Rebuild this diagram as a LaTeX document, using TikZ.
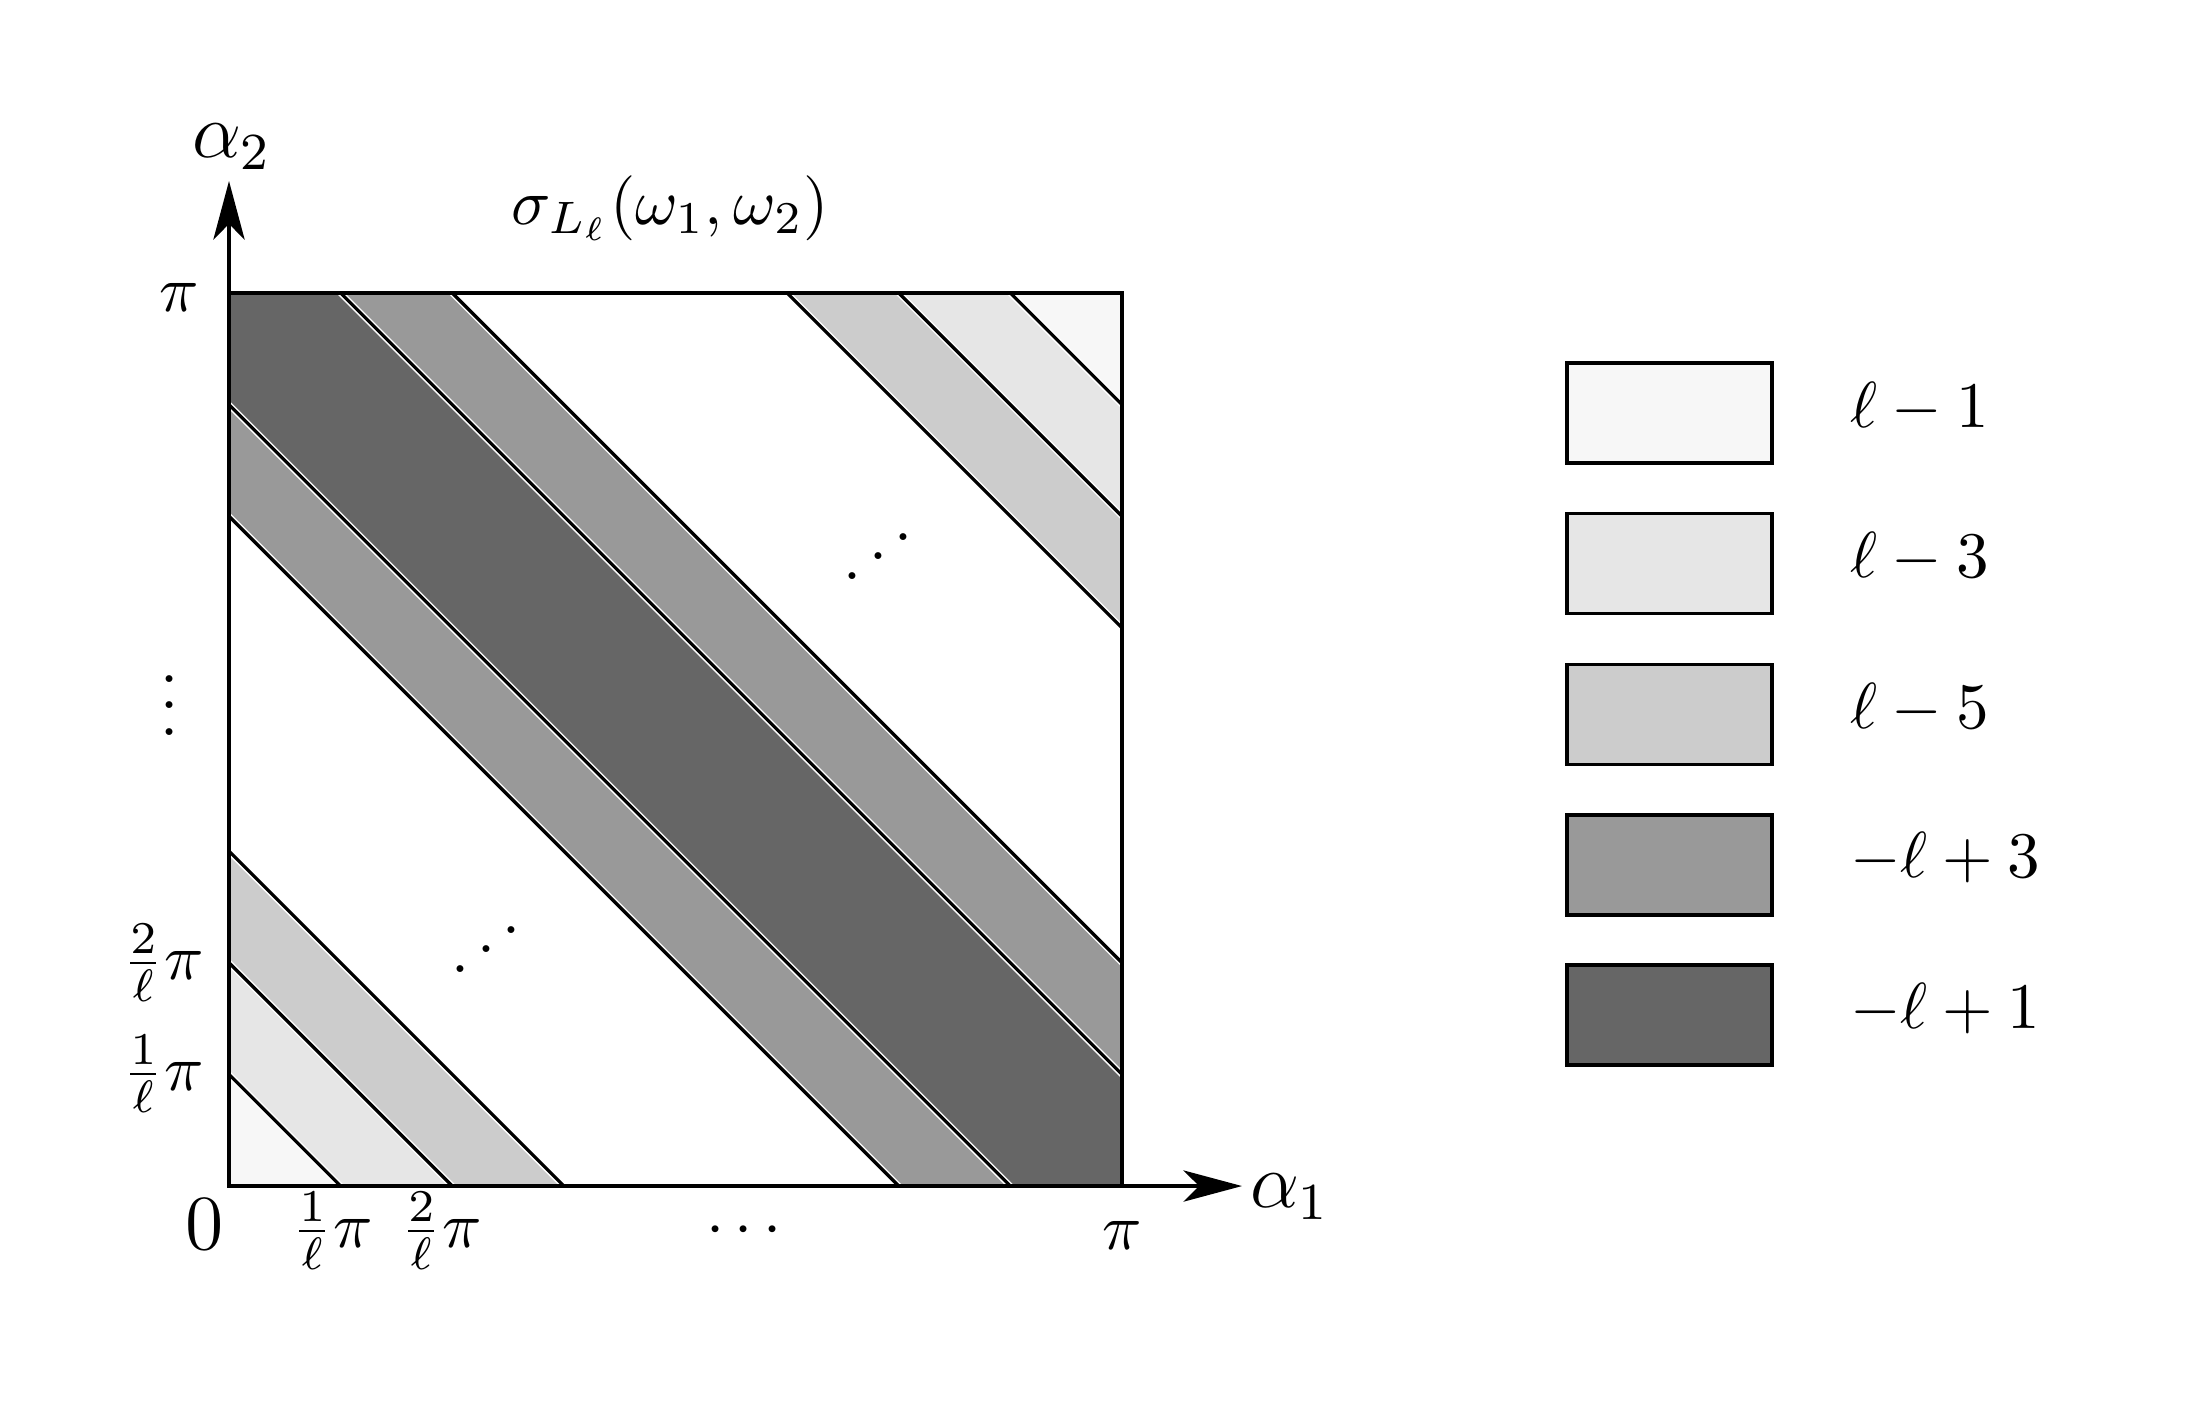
\documentclass[tikz,border=0pt]{standalone}
\usepackage{graphicx}
\usetikzlibrary{arrows.meta}
\definecolor{cA}{HTML}{F7F7F7}
\definecolor{cB}{HTML}{E6E6E6}
\definecolor{cC}{HTML}{CCCCCC}
\definecolor{cD}{HTML}{999999}
\definecolor{cE}{HTML}{666666}
\tikzset{
  bandline/.style={line width=0.5pt, black},
  haloline/.style={line width=0.95pt, white},
  axisline/.style={line width=0.6pt, -{Stealth[length=9pt,width=4.8pt,inset=2.4pt]}},
  legbox/.style={draw, line width=0.55pt, inner sep=0pt, minimum width=31.5pt, minimum height=15.4pt},
  leglabel/.style={anchor=west, inner sep=0pt},
  lab/.style={inner sep=0pt}
}
\begin{document}
\begin{tikzpicture}[x=0.1538pt, y=-0.1538pt]
\useasboundingbox (0,0) rectangle (2188,1406);
% bands
\begin{scope}
\clip (229,293) rectangle (1122,1186);
\foreach \a/\b/\col in {0/1/cA, 1/2/cB, 2/3/cC, 3/6/white, 6/7/cD, 7/9/cE, 9/10/cD, 10/13/white, 13/14/cC, 14/15/cB, 15/16/cA} {
  \fill[\col] ({229+\a*111.625-1300},{1186-1300}) -- ({229+\a*111.625+1300},{1186+1300})
     -- ({229+\b*111.625+1300},{1186+1300}) -- ({229+\b*111.625-1300},{1186-1300}) -- cycle;
}
\foreach \c in {1,2,3,6,7,9,10,13,14,15} {
  \draw[haloline] ({229+\c*111.625-1300},{1186-1300}) -- ({229+\c*111.625+1300},{1186+1300});
}
\foreach \c in {1,2,3,6,7,9,10,13,14,15} {
  \draw[bandline] ({229+\c*111.625-1300},{1186-1300}) -- ({229+\c*111.625+1300},{1186+1300});
}
\end{scope}
\draw[line width=0.6pt] (229,293) rectangle (1122,1186);
% axes
\coordinate (O) at (229,1186);
\coordinate (Ytip) at (229,181);
\coordinate (Xtip) at (1242,1186);
\draw[axisline] (O) -- (Ytip);
\draw[axisline] (O) -- (Xtip);
\node[lab] (a2) at (232,147) {\large$\alpha_2$};
\node[lab] (a1) at (1290,1197) {\large$\alpha_1$};
\node[lab] (title) at (670,208) {$\sigma_{L_\ell}(\omega_1,\omega_2)$};
% ticks
\node[lab] (ypi) at (179,297) {$\pi$};
\node[lab] (yvd) at (170,686) {$\vdots$};
\node[lab] (y2) at (163,963) {$\frac{2}{\ell}\pi$};
\node[lab] (y1) at (163,1074) {$\frac{1}{\ell}\pi$};
\node[lab] (zero) at (205,1224) {\large$0$};
\node[lab] (x1) at (332,1231) {$\frac{1}{\ell}\pi$};
\node[lab] (x2) at (441,1231) {$\frac{2}{\ell}\pi$};
\node[lab] (xcd) at (744,1231) {$\cdots$};
\node[lab] (xpi) at (1122,1235) {$\pi$};
\node[lab] (dd1) at (878,537) {\reflectbox{$\ddots$}};
\node[lab] (dd2) at (486,930) {\reflectbox{$\ddots$}};
% legend
\node[legbox, fill=cA] (b1) at (1669.5,413) {};
\node[legbox, fill=cB] (b2) at (1669.5,563.5) {};
\node[legbox, fill=cC] (b3) at (1669.5,714.5) {};
\node[legbox, fill=cD] (b4) at (1669.5,865) {};
\node[legbox, fill=cE] (b5) at (1669.5,1015) {};
\node[leglabel] (l1) at (1849,408) {$\ell-1$};
\node[leglabel] (l2) at (1849,558) {$\ell-3$};
\node[leglabel] (l3) at (1849,709) {$\ell-5$};
\node[leglabel] (l4) at (1849,858) {$-\ell+3$};
\node[leglabel] (l5) at (1849,1009) {$-\ell+1$};
\end{tikzpicture}
\end{document}
